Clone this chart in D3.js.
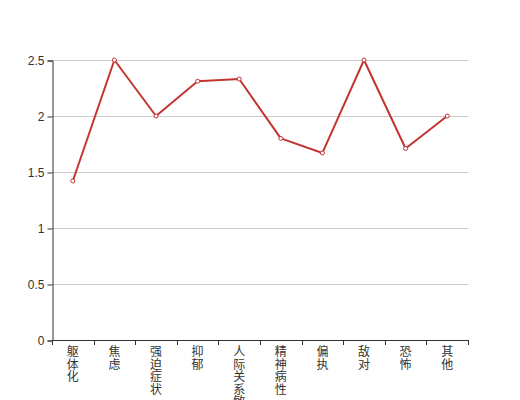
<!DOCTYPE html>
<html>
<head>
<meta charset="utf-8">
<script src="https://cdn.jsdelivr.net/npm/d3@7"></script>
<style>
  body { margin: 0; background: #fff; }
  text { font-family: "Noto Sans CJK SC", sans-serif; font-size: 12px; fill: #333; }
</style>
</head>
<body>
<svg width="520" height="400"></svg>
<script>
// **** data ****
var categories = ['躯体化', '焦虑', '强迫症状', '抑郁', '人际关系敏感', '精神病性', '偏执', '敌对', '恐怖', '其他'];
var scores = [1.42, 2.5, 2.0, 2.31, 2.33, 1.8, 1.67, 2.5, 1.71, 2.0];
var yTicks = [0, 0.5, 1, 1.5, 2, 2.5];

var svg = d3.select('svg');

var plotLeft = 52, plotRight = 468, plotTop = 60, plotBottom = 340;

var xScale = d3.scaleBand().domain(categories).range([plotLeft, plotRight]);
var yScale = d3.scaleLinear().domain([0, 2.5]).range([plotBottom, plotTop]);

// grid lines
svg.append('g')
    .selectAll('line')
    .data(yTicks.filter(function(d) { return d > 0; }))
    .enter()
    .append('line')
    .attr('x1', plotLeft).attr('x2', plotRight)
    .attr('y1', function(d) { return Math.round(yScale(d)) + 0.5; })
    .attr('y2', function(d) { return Math.round(yScale(d)) + 0.5; })
    .attr('stroke', '#ccc');

// y axis
var yAxis = svg.append('g')
    .attr('transform', 'translate(' + (plotLeft + 0.5) + ',0.5)')
    .call(d3.axisLeft(yScale).tickValues(yTicks).tickSize(5).tickPadding(3)
        .tickFormat(function(d) { return d; }));
yAxis.select('.domain').attr('stroke', '#333');
yAxis.selectAll('.tick line').attr('stroke', '#333');
yAxis.selectAll('.tick text').style('font-family', 'sans-serif').attr('fill', '#333').attr('font-size', 12);

// x axis line + ticks at band boundaries
var xg = svg.append('g');
xg.append('line')
    .attr('x1', plotLeft).attr('x2', plotRight + 1)
    .attr('y1', plotBottom + 0.5).attr('y2', plotBottom + 0.5)
    .attr('stroke', '#333');
var bounds = categories.map(function(c) { return xScale(c); }).concat([plotRight]);
xg.selectAll('line.tk')
    .data(bounds)
    .enter()
    .append('line')
    .attr('class', 'tk')
    .attr('x1', function(d) { return Math.round(d) + 0.5; })
    .attr('x2', function(d) { return Math.round(d) + 0.5; })
    .attr('y1', plotBottom).attr('y2', plotBottom + 5)
    .attr('stroke', '#333');

// vertical category labels
var labels = xg.selectAll('text.lbl')
    .data(categories)
    .enter()
    .append('text')
    .attr('class', 'lbl')
    .attr('text-anchor', 'middle');
labels.selectAll('tspan')
    .data(function(d) {
        var cx = xScale(d) + xScale.bandwidth() / 2;
        return d.split('').map(function(ch) { return { ch: ch, x: cx }; });
    })
    .enter()
    .append('tspan')
    .attr('x', function(d) { return d.x; })
    .attr('y', function(d, i) { return 356 + i * 12.5; })
    .text(function(d) { return d.ch; });

// line
var line = d3.line()
    .x(function(d, i) { return xScale(categories[i]) + xScale.bandwidth() / 2; })
    .y(function(d) { return yScale(d); });

svg.append('path')
    .datum(scores)
    .attr('d', line)
    .attr('fill', 'none')
    .attr('stroke', '#c23531')
    .attr('stroke-width', 2)
    .attr('stroke-linejoin', 'round');

svg.append('g')
    .selectAll('circle')
    .data(scores)
    .enter()
    .append('circle')
    .attr('cx', function(d, i) { return xScale(categories[i]) + xScale.bandwidth() / 2; })
    .attr('cy', function(d) { return yScale(d); })
    .attr('r', 2)
    .attr('fill', '#fff')
    .attr('stroke', '#c23531')
    .attr('stroke-width', 1);
</script>
</body>
</html>
